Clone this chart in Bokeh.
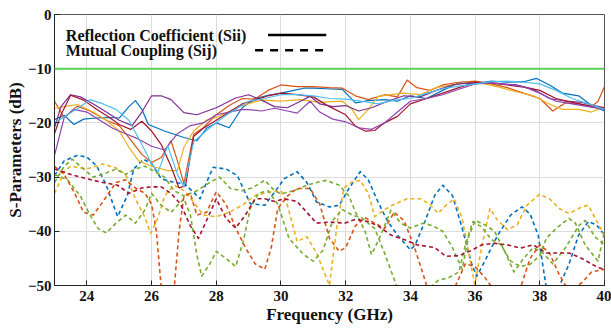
from bokeh.plotting import figure
from bokeh.models import FixedTicker, Span, Label, Arrow, Range1d
from bokeh.embed import file_html
from bokeh.resources import INLINE

# ---------------- data: reflection coefficients (solid) ----------------
f_s1 = [23.0, 23.3, 23.6, 23.9, 24.3, 24.7, 25.0, 25.3, 25.5, 25.7, 25.9, 26.4, 27.0, 27.4, 27.7, 28.0, 28.4, 28.8, 29.2, 29.6, 30.0, 30.4, 30.7, 31.0, 31.4, 31.9, 32.3, 32.7, 33.2, 33.6, 34.0, 34.5, 35.0, 35.5, 36.0, 36.5, 37.0, 37.5, 37.9, 38.3, 38.7, 39.2, 39.6, 40.0]
s11 = [-19.4, -18.6, -20.3, -19.3, -19.1, -19.0, -19.1, -17.0, -15.9, -17.5, -20.3, -21.5, -22.7, -23.3, -21.0, -20.0, -20.9, -17.2, -15.5, -14.9, -14.5, -14.0, -13.6, -13.6, -13.7, -13.8, -16.3, -15.9, -15.7, -16.0, -15.0, -15.5, -14.0, -12.6, -12.8, -12.3, -12.5, -12.4, -11.8, -13.0, -14.5, -15.0, -16.8, -17.8]

f_s2 = [23.0, 23.3, 23.7, 24.1, 24.6, 25.0, 25.3, 25.7, 26.0, 26.3, 26.6, 26.8, 27.0, 27.3, 27.6, 28.0, 28.4, 28.8, 29.2, 29.6, 30.0, 30.5, 31.0, 31.5, 31.9, 32.3, 32.7, 33.2, 33.6, 33.9, 34.2, 34.6, 35.0, 35.5, 36.0, 36.5, 37.0, 37.5, 38.0, 38.4, 38.8, 39.2, 39.6, 39.8, 40.0]
s22 = [-16.0, -19.0, -16.9, -17.8, -19.5, -20.5, -22.7, -25.8, -27.3, -26.4, -23.3, -27.0, -31.2, -22.1, -20.9, -18.5, -16.8, -15.5, -15.6, -14.0, -13.0, -13.3, -13.3, -13.5, -13.6, -15.0, -15.7, -14.8, -15.2, -12.1, -13.5, -14.0, -13.0, -12.5, -12.3, -12.8, -13.5, -14.5, -15.5, -17.8, -16.3, -16.5, -17.0, -16.0, -13.3]

f_s3 = [23.0, 23.3, 23.7, 24.2, 24.6, 25.0, 25.3, 25.6, 26.0, 26.5, 26.8, 27.0, 27.3, 27.7, 28.0, 28.4, 28.8, 29.4, 30.0, 30.6, 31.2, 31.9, 32.2, 32.4, 32.7, 33.0, 33.4, 33.8, 34.3, 34.8, 35.3, 35.8, 36.3, 36.8, 37.3, 37.8, 38.3, 38.7, 39.2, 39.6, 40.0]
s33 = [-17.3, -17.0, -16.6, -18.0, -19.5, -21.5, -24.5, -27.0, -28.0, -28.8, -28.8, -24.5, -21.5, -19.5, -19.0, -17.9, -16.8, -15.8, -16.0, -15.7, -16.2, -16.0, -17.5, -19.4, -17.5, -15.1, -14.8, -14.5, -14.8, -13.5, -13.0, -12.5, -12.8, -13.5, -14.3, -15.0, -16.5, -17.5, -17.5, -18.0, -17.0]

f_s4 = [23.0, 23.2, 23.5, 23.8, 24.2, 24.6, 25.0, 25.4, 25.7, 26.0, 26.3, 26.6, 27.0, 27.4, 28.0, 28.6, 29.0, 29.4, 29.8, 30.2, 30.6, 30.9, 31.2, 31.6, 32.0, 32.4, 32.8, 33.3, 33.8, 34.3, 34.8, 35.3, 35.8, 36.3, 36.8, 37.3, 37.8, 38.3, 38.8, 39.3, 39.7, 40.0]
s44 = [-20.9, -17.0, -14.8, -15.2, -16.5, -18.0, -19.5, -20.5, -18.0, -15.0, -15.0, -15.7, -18.1, -18.5, -17.2, -15.4, -14.8, -15.8, -17.0, -17.2, -16.0, -15.1, -16.5, -17.0, -16.8, -17.8, -17.2, -16.0, -15.0, -15.2, -14.0, -13.0, -12.6, -12.5, -12.8, -13.0, -13.8, -15.5, -16.0, -16.2, -16.8, -17.2]

f_s5 = [23.0, 23.2, 23.5, 23.9, 24.3, 24.7, 25.0, 25.35, 25.7, 26.0, 26.3, 26.6, 26.85, 27.05, 27.3, 27.6, 28.0, 28.4, 28.8, 29.2, 29.6, 30.0, 30.5, 31.0, 31.5, 32.0, 32.3, 32.6, 32.9, 33.2, 33.6, 34.0, 34.5, 35.0, 35.5, 36.0, 36.5, 37.0, 37.5, 38.0, 38.5, 39.0, 39.5, 40.0]
s55 = [-22.0, -18.5, -14.9, -15.8, -17.5, -19.0, -20.3, -21.2, -19.7, -21.5, -24.0, -28.0, -32.0, -31.6, -22.5, -21.0, -19.5, -18.0, -16.5, -15.8, -15.0, -14.5, -14.8, -15.2, -17.0, -18.5, -20.6, -21.5, -21.4, -20.0, -18.8, -16.5, -15.5, -14.5, -13.5, -12.5, -12.6, -13.0, -13.4, -14.0, -15.5, -16.2, -16.8, -17.3]

f_s6 = [23.0, 23.3, 23.6, 24.0, 24.4, 24.8, 25.2, 25.6, 26.0, 26.4, 26.8, 27.2, 27.6, 28.0, 28.4, 28.8, 29.1, 29.4, 29.8, 30.2, 30.5, 30.9, 31.2, 31.6, 32.0, 32.4, 32.8, 33.2, 33.6, 34.0, 34.5, 35.0, 35.5, 36.0, 36.5, 37.0, 37.5, 38.0, 38.5, 39.0, 39.5, 40.0]
s66 = [-26.0, -19.0, -17.5, -18.0, -19.5, -21.0, -22.0, -23.0, -24.3, -25.0, -22.0, -20.5, -20.0, -18.5, -18.0, -17.5, -17.6, -17.8, -17.3, -17.8, -18.2, -16.0, -18.0, -19.3, -19.8, -20.9, -21.2, -20.0, -18.0, -16.0, -15.5, -14.8, -13.8, -12.8, -12.6, -12.9, -13.3, -14.5, -16.0, -16.5, -17.0, -17.5]

f_s7 = [23.0, 23.4, 23.8, 24.1, 24.5, 24.9, 25.3, 25.7, 26.0, 26.2, 26.5, 26.8, 27.0, 27.3, 27.8, 28.2, 28.6, 29.0, 29.5, 30.0, 30.5, 31.0, 31.5, 32.0, 32.5, 33.0, 33.5, 34.0, 34.5, 35.0, 35.5, 36.0, 36.5, 37.0, 37.5, 38.0, 38.5, 39.0, 39.5, 40.0]
s77 = [-20.0, -18.5, -17.0, -15.7, -16.5, -17.5, -19.5, -24.0, -27.5, -29.1, -24.2, -29.5, -31.8, -23.5, -20.9, -19.0, -17.5, -16.0, -15.5, -14.8, -14.8, -15.0, -15.5, -15.6, -16.0, -16.5, -15.8, -15.5, -14.5, -13.7, -13.2, -12.8, -12.4, -12.3, -12.5, -12.8, -14.0, -15.5, -16.5, -17.5]

# ---------------- data: mutual coupling (dashed) ----------------
f_d1 = [23.0, 23.3, 23.7, 24.0, 24.3, 24.6, 24.95, 25.25, 25.45, 25.75, 26.0, 26.3, 26.7, 27.0, 27.3, 27.5, 27.7, 27.9, 28.3, 28.65, 29.05, 29.5, 29.8, 30.1, 30.5, 30.8, 31.1, 31.5, 31.8, 32.1, 32.45, 32.7, 33.0, 33.3, 33.6, 34.0, 34.15, 34.45, 34.75, 35.0, 35.3, 35.6, 35.9, 36.05, 36.3, 36.7, 37.1, 37.45, 37.7, 37.95, 38.2, 38.5, 38.9, 39.2, 39.5, 39.75, 40.0]
s_d1 = [-29.7, -27.0, -26.0, -26.3, -27.9, -31.5, -37.3, -33.4, -28.5, -26.7, -27.5, -30.3, -31.0, -31.2, -32.8, -34.0, -31.0, -28.2, -28.5, -29.7, -34.9, -35.2, -32.8, -30.3, -29.0, -31.0, -34.6, -35.5, -35.2, -32.1, -29.0, -30.5, -34.6, -38.2, -40.7, -43.4, -42.5, -38.2, -33.4, -31.5, -33.4, -39.4, -46.1, -48.3, -45.5, -40.7, -37.0, -35.5, -36.8, -40.7, -50.4, -51.5, -46.1, -40.7, -38.2, -38.8, -40.7]

f_d2 = [23.0, 23.3, 23.5, 24.0, 24.5, 24.9, 25.2, 25.5, 25.8, 25.97, 26.2, 26.4, 26.7, 27.0, 27.3, 27.6, 28.0, 28.4, 28.8, 29.2, 29.6, 30.0, 30.2, 30.5, 30.8, 31.1, 31.5, 31.75, 31.95, 32.2, 32.45, 32.7, 32.9, 33.2, 33.5, 33.9, 34.3, 34.6, 34.85, 35.1, 35.35, 35.6, 35.8, 35.99, 36.2, 36.46, 36.7, 37.0, 37.3, 37.6, 37.99, 38.3, 38.6, 38.9, 39.3, 39.5, 39.75, 40.0]
s_d2 = [-33.0, -29.0, -28.0, -28.5, -27.6, -28.3, -29.5, -34.0, -37.5, -40.4, -37.5, -33.5, -31.5, -32.5, -34.6, -37.0, -37.3, -36.5, -35.2, -33.4, -32.8, -32.5, -35.2, -41.9, -41.0, -44.0, -50.0, -38.0, -32.0, -30.9, -30.6, -33.0, -37.3, -36.0, -35.0, -34.0, -34.0, -35.0, -36.7, -35.2, -34.0, -37.6, -44.0, -49.8, -43.0, -35.8, -38.0, -39.7, -38.8, -35.2, -33.2, -34.0, -35.8, -36.7, -35.5, -35.2, -38.0, -40.8]

f_d3 = [23.0, 23.3, 23.55, 23.9, 24.2, 24.5, 24.9, 25.2, 25.5, 25.8, 26.1, 26.4, 26.7, 27.0, 27.4, 27.8, 28.1, 28.44, 28.8, 29.1, 29.5, 29.8, 30.0, 30.4, 30.8, 31.1, 31.4, 31.8, 32.1, 32.3, 32.6, 32.8, 33.1, 33.4, 33.7, 34.0, 34.4, 34.7, 35.0, 35.3, 35.6, 35.8, 36.0, 36.3, 36.6, 36.9, 37.2, 37.5, 37.8, 38.1, 38.4, 38.8, 39.2, 39.4, 39.7, 40.0]
s_d3 = [-31.0, -28.0, -26.7, -28.5, -30.0, -29.5, -28.5, -29.5, -28.5, -28.0, -29.0, -30.0, -32.5, -33.5, -32.5, -31.0, -30.0, -32.1, -32.5, -32.0, -30.6, -32.5, -33.1, -32.5, -31.5, -31.0, -30.6, -31.5, -33.5, -36.4, -40.0, -44.3, -40.5, -36.1, -38.5, -39.4, -38.5, -39.0, -40.0, -43.0, -47.0, -41.0, -38.0, -38.8, -40.0, -43.5, -47.5, -45.0, -43.0, -44.0, -46.0, -43.0, -39.0, -38.0, -41.0, -42.5]

f_d4 = [23.0, 23.4, 23.8, 24.1, 24.35, 24.6, 24.9, 25.2, 25.5, 25.8, 26.0, 26.3, 26.6, 27.0, 27.2, 27.4, 27.55, 27.8, 28.0, 28.3, 28.6, 28.85, 29.05, 29.3, 29.6, 29.9, 30.25, 30.7, 31.0, 31.3, 31.6, 31.9, 32.2, 32.5, 32.9, 33.2, 33.6, 34.0, 34.5, 34.85, 35.2, 35.5, 35.7, 35.93, 36.2, 36.5, 36.8, 37.1, 37.4, 37.7, 38.0, 38.2, 38.5, 38.9, 39.1, 39.4, 39.8, 40.0]
s_d4 = [-29.5, -30.5, -33.5, -37.0, -39.5, -40.3, -38.5, -37.0, -38.5, -36.0, -33.0, -35.2, -36.5, -34.0, -37.0, -44.3, -48.3, -46.0, -43.7, -45.0, -46.5, -41.5, -35.8, -33.0, -32.5, -35.0, -41.3, -44.3, -45.5, -43.5, -38.0, -36.0, -37.0, -37.5, -39.5, -44.0, -50.5, -52.0, -51.0, -49.1, -48.5, -47.5, -42.5, -38.2, -39.2, -41.5, -42.5, -45.5, -46.5, -46.1, -44.5, -41.3, -39.5, -37.6, -38.5, -42.5, -45.5, -40.0]

f_d5 = [23.0, 23.3, 23.6, 23.9, 24.2, 24.5, 24.9, 25.2, 25.5, 25.8, 26.0, 26.15, 26.3, 26.5, 26.7, 26.85, 27.0, 27.2, 27.4, 27.7, 28.0, 28.3, 28.6, 28.9, 29.2, 29.5, 29.7, 29.9, 30.2, 30.5, 30.9, 31.2, 31.5, 31.8, 32.0, 32.3, 32.6, 32.9, 33.2, 33.5, 33.8, 34.1, 34.4, 34.6, 35.0, 35.4, 35.7, 36.0, 36.3, 36.6, 37.0, 37.4, 37.7, 38.0, 38.3, 38.6, 38.9, 39.3, 39.6, 40.0]
s_d5 = [-28.0, -29.5, -32.7, -36.5, -37.0, -34.5, -31.0, -30.5, -32.0, -33.0, -35.0, -40.0, -50.5, -56.0, -50.5, -40.0, -33.5, -33.0, -37.0, -36.5, -32.7, -35.0, -39.4, -43.0, -46.0, -47.0, -43.0, -35.8, -33.5, -32.1, -32.1, -35.0, -41.3, -43.7, -43.0, -39.0, -37.5, -38.5, -39.5, -36.5, -38.0, -42.5, -48.0, -52.0, -53.0, -50.0, -46.0, -46.5, -48.5, -51.0, -53.0, -50.5, -45.0, -42.5, -44.0, -48.0, -51.0, -49.5, -47.5, -47.0]

f_d6 = [23.0, 23.5, 24.0, 24.5, 24.95, 25.3, 25.7, 26.0, 26.3, 26.6, 26.9, 27.2, 27.45, 27.7, 28.0, 28.3, 28.6, 28.9, 29.2, 29.5, 29.8, 30.1, 30.5, 30.8, 31.1, 31.5, 31.97, 32.3, 32.7, 33.0, 33.4, 33.8, 34.2, 34.75, 35.1, 35.5, 35.9, 36.2, 36.6, 37.0, 37.4, 37.8, 38.2, 38.6, 38.9, 39.3, 39.8, 40.0]
s_d6 = [-28.5, -29.5, -30.3, -31.0, -31.5, -33.0, -32.0, -31.8, -31.8, -33.0, -35.0, -39.0, -41.3, -38.0, -34.0, -37.6, -39.4, -37.0, -34.0, -34.0, -34.5, -34.0, -34.5, -36.5, -38.5, -38.3, -38.5, -37.8, -38.2, -39.0, -40.7, -41.5, -42.5, -43.0, -44.6, -44.5, -43.5, -42.5, -42.2, -42.5, -43.1, -42.5, -44.0, -44.0, -44.0, -45.0, -46.7, -47.0]

threshold_db = -10
x_ticks = [24, 26, 28, 30, 32, 34, 36, 38, 40]
y_ticks = [0, -10, -20, -30, -40, -50]

solid_series = [
    (f_s1, s11, "#0072BD"),
    (f_s2, s22, "#D95319"),
    (f_s3, s33, "#EDB120"),
    (f_s4, s44, "#7E2F8E"),
    (f_s5, s55, "#A2142F"),
    (f_s6, s66, "#8E44AD"),
    (f_s7, s77, "#4DBEEE"),
]
dashed_series = [
    (f_d1, s_d1, "#0072BD"),
    (f_d2, s_d2, "#EDB120"),
    (f_d3, s_d3, "#77AC30"),
    (f_d4, s_d4, "#77AC30"),
    (f_d5, s_d5, "#D95319"),
    (f_d6, s_d6, "#A2142F"),
]

FONT = "'Liberation Serif', 'Times New Roman', serif"

p = figure(width=611, height=333, output_backend="svg", toolbar_location=None,
           x_range=Range1d(23, 40), y_range=Range1d(-50, 0),
           min_border_left=54, min_border_right=7, min_border_top=14, min_border_bottom=48)
p.background_fill_color = "white"
p.border_fill_color = "white"
p.outline_line_color = "#555555"
p.outline_line_width = 1

for f, s, c in dashed_series:
    p.line(f, s, line_color=c, line_width=1.6, line_dash="4 3", line_join="round")
for f, s, c in solid_series:
    p.line(f, s, line_color=c, line_width=1.2, line_join="round")

p.add_layout(Span(location=threshold_db, dimension="width", line_color="#55d455", line_width=2))

p.xaxis.ticker = FixedTicker(ticks=x_ticks)
p.yaxis.ticker = FixedTicker(ticks=y_ticks)
for ax in (p.xaxis[0], p.yaxis[0]):
    ax.major_label_text_font = FONT
    ax.major_label_text_font_style = "bold"
    ax.major_label_text_font_size = "15px"
    ax.major_label_text_color = "#111111"
    ax.axis_label_text_font = FONT
    ax.axis_label_text_font_style = "bold"
    ax.axis_label_text_font_size = "17px"
    ax.axis_label_text_color = "#111111"
    ax.major_tick_in = 5
    ax.major_tick_out = 0
    ax.minor_tick_in = 0
    ax.minor_tick_out = 0
    ax.axis_line_color = "#222222"
    ax.major_tick_line_color = "#222222"
p.xaxis.axis_label = "Frequency (GHz)"
p.yaxis.axis_label = "S-Parameters (dB)"
p.xaxis.major_label_standoff = 5
p.yaxis.major_label_standoff = 3
p.xaxis.axis_label_standoff = 1
p.yaxis.axis_label_standoff = 0

p.xgrid.grid_line_color = "#dcdcdc"
p.ygrid.grid_line_color = "#dcdcdc"

# legend (drawn on the right of the labels, as in the source figure)
p.add_layout(Label(x=23.35, y=-3.8, text="Reflection Coefficient (Sii)", text_font=FONT,
                   text_font_style="bold", text_font_size="16px", text_baseline="middle",
                   text_color="#111111"))
p.add_layout(Label(x=23.35, y=-6.6, text="Mutual Coupling  (Sij)", text_font=FONT,
                   text_font_style="bold", text_font_size="16px", text_baseline="middle",
                   text_color="#111111"))
p.add_layout(Arrow(end=None, x_start=29.6, y_start=-3.8, x_end=31.4, y_end=-3.8,
                   line_color="black", line_width=2.5))
p.add_layout(Arrow(end=None, x_start=29.2, y_start=-6.6, x_end=31.4, y_end=-6.6,
                   line_color="black", line_width=2.5, line_dash="8 7"))

open("out.html", "w").write(file_html(p, INLINE))
